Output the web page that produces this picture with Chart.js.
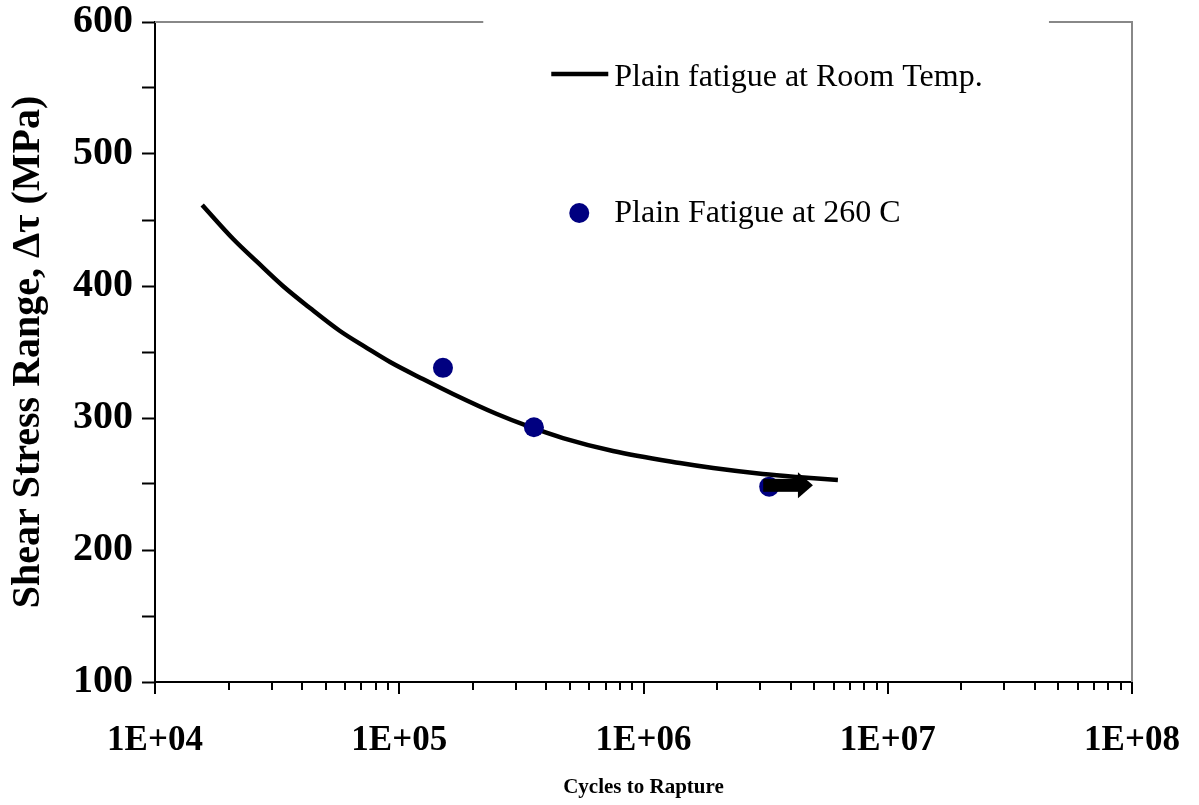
<!DOCTYPE html>
<html>
<head>
<meta charset="utf-8">
<title>Shear stress range vs cycles</title>
<script src="https://cdn.jsdelivr.net/npm/chart.js@4"></script>
<style>
  html, body { margin: 0; padding: 0; background: #fff; }
  #wrap { width: 1199px; height: 805px; }
</style>
</head>
<body>
<div id="wrap"><canvas id="chart" width="1199" height="805"></canvas></div>
<script>
// room temperature fatigue curve
const curveCycles = [1.56e4, 2.09e4, 2.62e4, 3.34e4, 4.31e4, 5.72e4, 7.38e4, 9.17e4, 1.25e5, 1.66e5,
  2.51e5, 3.43e5, 4.68e5, 7.5e5, 1.41e6, 1.93e6, 3.08e6, 4.25e6, 6.25e6];
const curveStress = [461.4, 435.6, 418.2, 400.0, 383.3, 365.9, 353.0, 342.4, 329.5, 318.2,
  303.0, 293.2, 284.8, 275.0, 265.9, 262.1, 257.6, 255.3, 253.0];

// 260 C test points
const hotCycles = [1.51e5, 3.56e5, 3.27e6];
const hotStress = [338, 293, 248];

// run-out arrow on the last point
const runoutFrom = [3.27e6, 249];
const runoutTo = [4.94e6, 249];

const yTicks = [100, 150, 200, 250, 300, 350, 400, 450, 500, 550, 600];
const xDecades = [1e4, 1e5, 1e6, 1e7, 1e8];

const serif = "'Liberation Serif', 'Times New Roman', serif";

const boxPlugin = {
  id: "boxAndLegend",
  afterDatasetsDraw(chart) {
    const { ctx, chartArea: a, scales: { x, y } } = chart;
    ctx.save();

    // run-out arrow
    const x0 = x.getPixelForValue(runoutFrom[0]);
    const x1 = x.getPixelForValue(runoutTo[0]);
    const yy = y.getPixelForValue(runoutFrom[1]);
    ctx.fillStyle = "#000";
    ctx.fillRect(x0 - 6, yy - 6.5, x1 - x0 - 8, 13);
    ctx.beginPath();
    ctx.moveTo(x1 - 15, yy - 13);
    ctx.lineTo(x1, yy);
    ctx.lineTo(x1 - 15, yy + 13);
    ctx.closePath();
    ctx.fill();

    // x tick marks (long at decades)
    ctx.strokeStyle = "#000";
    ctx.lineWidth = 2;
    x.ticks.forEach((t) => {
      const px = Math.round(x.getPixelForValue(t.value));
      const major = xDecades.includes(t.value);
      ctx.beginPath();
      ctx.moveTo(px, a.bottom);
      ctx.lineTo(px, a.bottom + (major ? 12 : 8));
      ctx.stroke();
    });

    // grey frame on top and right
    ctx.strokeStyle = "#888";
    ctx.lineWidth = 2;
    ctx.beginPath();
    ctx.moveTo(a.left, a.top);
    ctx.lineTo(a.right, a.top);
    ctx.lineTo(a.right, a.bottom);
    ctx.stroke();

    // legend box (white, hides part of the frame)
    const w = a.right - a.left;
    const lx = a.left + w * 0.336;
    const rx = a.left + w * 0.915;
    ctx.fillStyle = "#fff";
    ctx.fillRect(lx, a.top - 3, rx - lx, 6);

    const ds = chart.data.datasets;
    ctx.font = "32px " + serif;
    ctx.textBaseline = "alphabetic";
    ctx.fillStyle = "#000";

    ctx.strokeStyle = "#000";
    ctx.lineWidth = 4.5;
    ctx.beginPath();
    ctx.moveTo(lx + 68, a.top + 52);
    ctx.lineTo(lx + 125, a.top + 52);
    ctx.stroke();
    ctx.fillText(ds[1].label, lx + 131, a.top + 64);

    ctx.fillStyle = "#000080";
    ctx.beginPath();
    ctx.arc(lx + 96, a.top + 191, 10, 0, Math.PI * 2);
    ctx.fill();
    ctx.fillStyle = "#000";
    ctx.fillText(ds[0].label, lx + 131, a.top + 200);

    ctx.restore();
  },
};

new Chart(document.getElementById("chart"), {
  data: {
    datasets: [
      {
        type: "scatter",
        label: "Plain Fatigue at 260 C",
        data: hotCycles.map((c, i) => ({ x: c, y: hotStress[i] })),
        backgroundColor: "#000080",
        borderWidth: 0,
        pointRadius: 10,
        order: 0,
      },
      {
        type: "line",
        label: "Plain fatigue at Room Temp.",
        data: curveCycles.map((c, i) => ({ x: c, y: curveStress[i] })),
        borderColor: "#000",
        borderWidth: 4.5,
        pointRadius: 0,
        cubicInterpolationMode: "monotone",
        fill: false,
        order: 1,
      },
    ],
  },
  options: {
    responsive: false,
    animation: false,
    layout: { padding: { top: 22, right: 67, left: 0, bottom: 0 } },
    plugins: { legend: { display: false }, tooltip: { enabled: false } },
    scales: {
      x: {
        type: "logarithmic",
        position: "bottom",
        min: 1e4,
        max: 1e8,
        afterFit: (s) => { s.height = 123; s.paddingLeft = 0; s.paddingRight = 0; },
        afterBuildTicks: (s) => {
          const t = [];
          for (let d = 1e4; d < 1e8; d *= 10) {
            for (let k = 1; k < 10; k++) t.push({ value: d * k });
          }
          t.push({ value: 1e8 });
          s.ticks = t;
        },
        border: { display: true, color: "#000", width: 2 },
        grid: { display: false, drawTicks: false },
        ticks: {
          autoSkip: false,
          maxRotation: 0,
          padding: 38,
          color: "#000",
          font: { family: serif, size: 35, weight: "bold" },
          callback: (v) => (xDecades.includes(v) ? "1E+0" + Math.round(Math.log10(v)) : ""),
        },
        title: {
          display: true,
          text: "Cycles to Rapture",
          color: "#000",
          font: { family: serif, size: 21, weight: "bold" },
          padding: { top: 0, bottom: 5 },
        },
      },
      y: {
        type: "linear",
        min: 100,
        max: 600,
        afterFit: (s) => { s.width = 155; s.paddingTop = 0; s.paddingBottom = 0; },
        afterBuildTicks: (s) => { s.ticks = yTicks.map((v) => ({ value: v })); },
        border: { display: true, color: "#000", width: 2 },
        grid: { drawOnChartArea: false, tickLength: 13, tickColor: "#000", tickWidth: 2 },
        ticks: {
          padding: 9,
          color: "#000",
          font: { family: serif, size: 40, weight: "bold" },
          callback: (v) => (v % 100 === 0 ? String(v) : ""),
        },
        title: {
          display: true,
          text: "Shear Stress Range, Δτ (MPa)",
          color: "#000",
          font: { family: serif, size: 40, weight: "bold" },
          padding: { top: 5, bottom: 0 },
        },
      },
    },
  },
  plugins: [boxPlugin],
});
</script>
</body>
</html>
